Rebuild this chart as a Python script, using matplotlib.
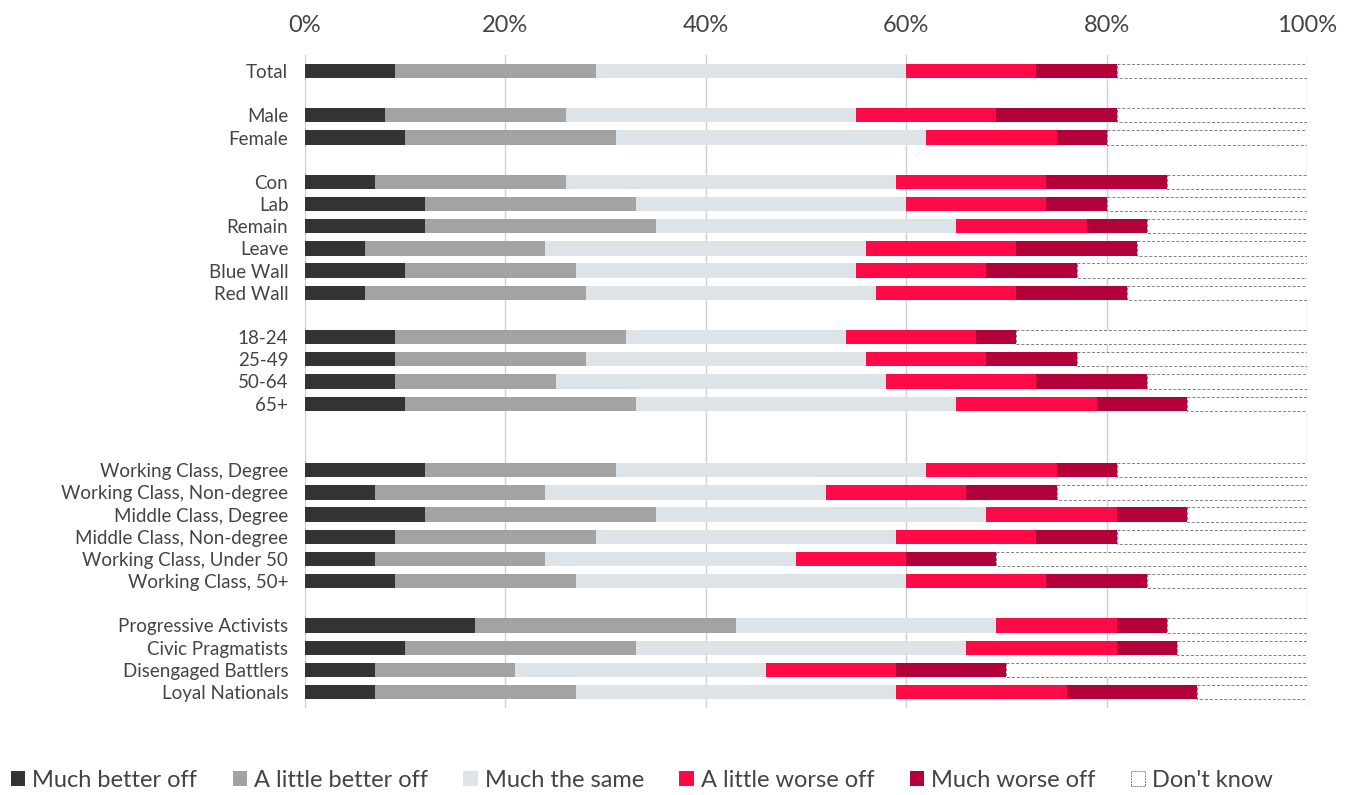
import matplotlib
matplotlib.use("Agg")
import matplotlib.pyplot as plt
from matplotlib.patches import Patch

# Данные: доли ответов по группам (в процентах)
groups = ["Total", "Male", "Female", "Con", "Lab", "Remain", "Leave",
          "Blue Wall", "Red Wall", "18-24", "25-49", "50-64", "65+",
          "Working Class, Degree", "Working Class, Non-degree",
          "Middle Class, Degree", "Middle Class, Non-degree",
          "Working Class, Under 50", "Working Class, 50+",
          "Progressive Activists", "Civic Pragmatists",
          "Disengaged Battlers", "Loyal Nationals"]
# позиции строк (с пропусками между блоками)
rows = [0, 2, 3, 5, 6, 7, 8, 9, 10, 12, 13, 14, 15,
        18, 19, 20, 21, 22, 23, 25, 26, 27, 28]

much_better = [9, 8, 10, 7, 12, 12, 6, 10, 6, 9, 9, 9, 10,
               12, 7, 12, 9, 7, 9, 17, 10, 7, 7]
little_better = [20, 18, 21, 19, 21, 23, 18, 17, 22, 23, 19, 16, 23,
                 19, 17, 23, 20, 17, 18, 26, 23, 14, 20]
much_same = [31, 29, 31, 33, 27, 30, 32, 28, 29, 22, 28, 33, 32,
             31, 28, 33, 30, 25, 33, 26, 33, 25, 32]
little_worse = [13, 14, 13, 15, 14, 13, 15, 13, 14, 13, 12, 15, 14,
                13, 14, 13, 14, 11, 14, 12, 15, 13, 17]
much_worse = [8, 12, 5, 12, 6, 6, 12, 9, 11, 4, 9, 11, 9,
              6, 9, 7, 8, 9, 10, 5, 6, 11, 13]
dont_know = [100 - a - b - c - d - e for a, b, c, d, e in
             zip(much_better, little_better, much_same, little_worse, much_worse)]

series = [("Much better off", much_better, "#333333"),
          ("A little better off", little_better, "#a3a3a3"),
          ("Much the same", much_same, "#dde3e7"),
          ("A little worse off", little_worse, "#ff0a47"),
          ("Much worse off", much_worse, "#b3003a")]

plt.rcParams['font.family'] = ['Lato', 'DejaVu Sans']
text_color = "#444444"

fig = plt.figure(figsize=(13.6, 7.95), dpi=100)
ax = fig.add_axes([305 / 1360, 1 - 708 / 795, 1002 / 1360, 653 / 795])

left = [0] * len(groups)
for name, vals, color in series:
    ax.barh(rows, vals, left=left, height=0.64, color=color, zorder=2)
    left = [l + v for l, v in zip(left, vals)]

# Don't know - пустые сегменты с пунктирной рамкой
ax.barh(rows, dont_know, left=left, height=0.64, facecolor="white",
        edgecolor="#808080", linestyle=(0, (3, 2)), linewidth=0.7, zorder=2)

ax.set_xlim(0, 100)
ax.set_ylim(28.72, -0.72)
ax.set_xticks([0, 20, 40, 60, 80, 100])
ax.set_xticklabels(["0%", "20%", "40%", "60%", "80%", "100%"])
ax.xaxis.tick_top()
ax.tick_params(axis="x", length=0, pad=14, labelsize=17, labelcolor=text_color)
ax.set_yticks(rows)
ax.set_yticklabels(groups)
ax.tick_params(axis="y", length=0, pad=12, labelsize=13.5, labelcolor=text_color)
ax.grid(axis="x", color="#d0d0d0", linewidth=1, zorder=0)
for s in ax.spines.values():
    s.set_visible(False)

handles = [Patch(facecolor=c, label=n) for n, _, c in series]
handles.append(Patch(facecolor="white", edgecolor="#808080",
                     linestyle=(0, (2, 1)), linewidth=0.7, label="Don't know"))
fig.legend(handles=handles, loc="lower center", bbox_to_anchor=(0.472, -0.022),
           ncol=6, frameon=False, fontsize=17, handlelength=0.6, handleheight=0.6,
           handletextpad=0.3, columnspacing=1.5, labelcolor=text_color)

fig.savefig("out.png", dpi=100)
